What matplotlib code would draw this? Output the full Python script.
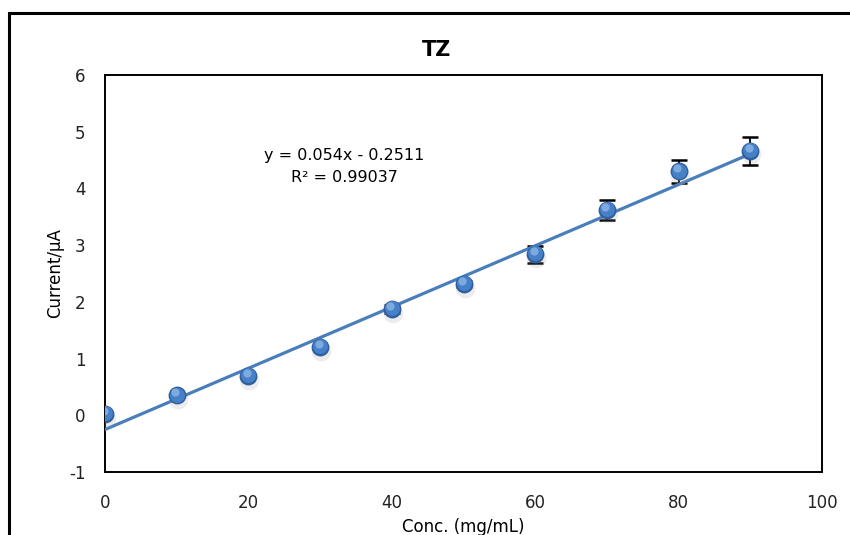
import numpy as np
import matplotlib
matplotlib.use("Agg")
import matplotlib.pyplot as plt
from matplotlib.patches import Rectangle

conc = [0, 10, 20, 30, 40, 50, 60, 70, 80, 90]
current = [0.02, 0.35, 0.69, 1.20, 1.87, 2.31, 2.84, 3.62, 4.30, 4.66]
err = [0.03, 0.03, 0.03, 0.03, 0.07, 0.05, 0.15, 0.18, 0.21, 0.25]
slope = 0.054
intercept = -0.2511
eq_text = "y = 0.054x - 0.2511"
r2_text = "R² = 0.99037"
xticks = [0, 20, 40, 60, 80, 100]
yticks = [-1, 0, 1, 2, 3, 4, 5, 6]

plt.rcParams['font.family'] = ['DejaVu Sans']
plt.rcParams['axes.unicode_minus'] = False

W, H = 850, 535
fig = plt.figure(figsize=(W / 100, H / 100), dpi=100)

# outer chart border
fig.patches.append(Rectangle((9 / W, -0.2), 1.2, 1.2 - 13 / H,
                             transform=fig.transFigure, fill=False,
                             edgecolor='black', linewidth=2.2))

ax = fig.add_axes([105 / W, 1 - 472 / H, (822 - 105) / W, (472 - 75) / H])
ax.set_xlim(0, 100)
ax.set_ylim(-1, 6)
ax.set_xticks(xticks)
ax.set_yticks(yticks)
ax.tick_params(length=0, labelsize=12, pad=14, labelcolor='#222222')
ax.tick_params(axis='x', pad=16)
for s in ax.spines.values():
    s.set_linewidth(1.4)
    s.set_color('black')

# trendline
xs = np.array([min(conc), max(conc)])
ax.plot(xs, slope * xs + intercept, color='#4a7ebb', linewidth=2.3, zorder=3)

# error bars
ax.errorbar(conc, current, yerr=err, fmt='none', ecolor='black',
            elinewidth=1.3, capsize=6, capthick=1.8, zorder=2)

# sphere-like markers: soft shadow, base, body, highlight
ax.scatter(np.array(conc) + 0.15, np.array(current) - 0.06, s=200,
           color='#999999', alpha=0.18, linewidths=0, zorder=4)
ax.scatter(conc, current, s=165, color='#2f5f9e', linewidths=0, zorder=5)
ax.scatter(np.array(conc), np.array(current) + 0.015, s=115,
           color='#4680c6', linewidths=0, zorder=6)
ax.scatter(np.array(conc) - 0.2, np.array(current) + 0.06, s=35,
           color='#7eaae0', linewidths=0, zorder=7)

ax.text(0.334, 0.797, eq_text, transform=ax.transAxes, ha='center',
        va='center', fontsize=11.5)
ax.text(0.334, 0.742, r2_text, transform=ax.transAxes, ha='center',
        va='center', fontsize=11.5)

fig.text(437 / W, 1 - 50 / H, "TZ", ha='center', va='center',
         fontsize=15, fontweight='bold')
fig.text(55 / W, 1 - 273 / H, "Current/μA", rotation=90, ha='center',
         va='center', fontsize=12)
fig.text(463 / W, 1 - 527 / H, "Conc. (mg/mL)", ha='center', va='center',
         fontsize=12)

fig.savefig("out.png", dpi=100)
